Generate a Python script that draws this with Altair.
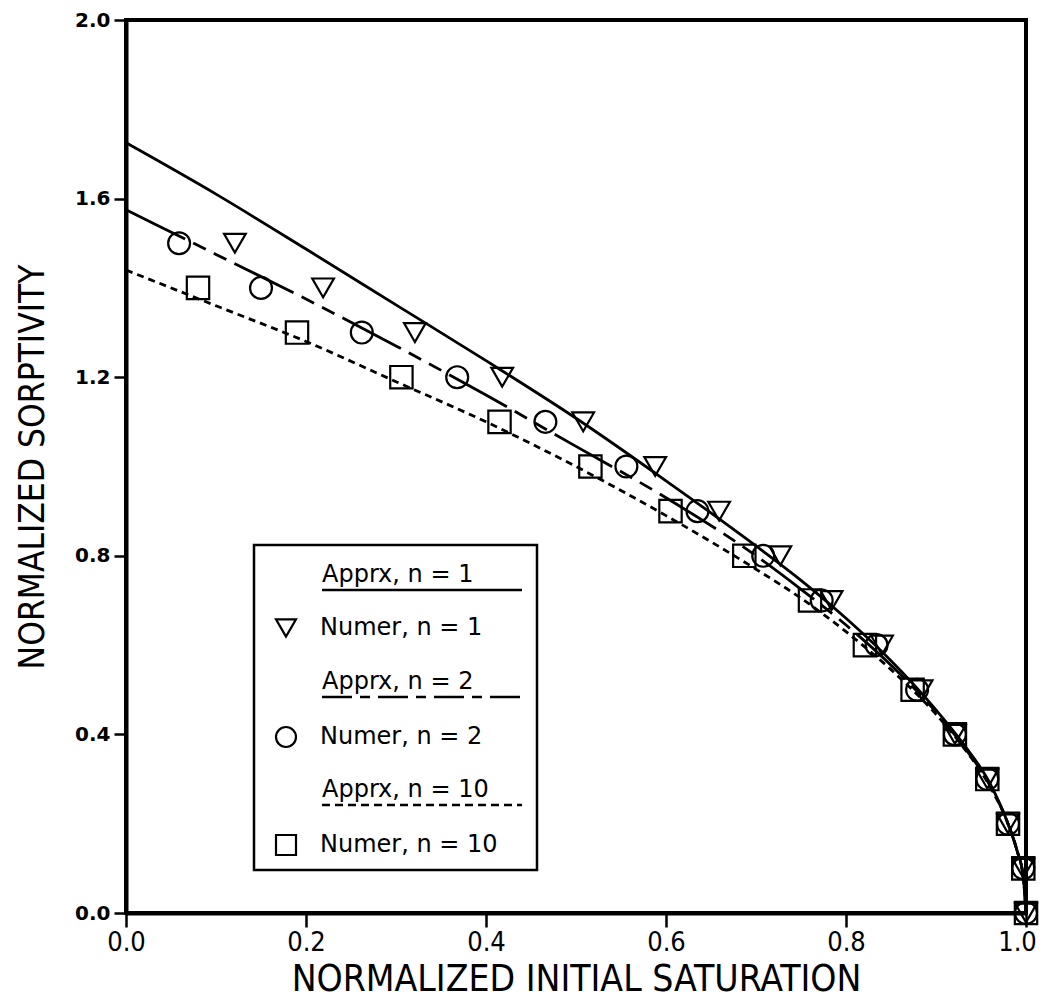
import altair as alt
import pandas as pd

# ---- data ----
sat_levels = [1.5, 1.4, 1.3, 1.2, 1.1, 1.0, 0.9, 0.8, 0.7, 0.6, 0.5, 0.4, 0.3, 0.2, 0.1, 0.0]

numer1_x = [0.121, 0.219, 0.321, 0.418, 0.508, 0.588, 0.659, 0.727, 0.784, 0.840, 0.884, 0.921, 0.957, 0.980, 0.997, 1.0]
numer1_y = sat_levels

numer2_x = [0.059, 0.150, 0.262, 0.368, 0.466, 0.556, 0.635, 0.708, 0.773, 0.834, 0.879, 0.921, 0.957, 0.980, 0.997, 1.0]
numer2_y = sat_levels

numer10_x = [0.080, 0.190, 0.306, 0.415, 0.516, 0.605, 0.687, 0.760, 0.821, 0.874, 0.921, 0.957, 0.980, 0.997, 1.0]
numer10_y = sat_levels[1:]

apprx_x = [0.0, 0.1, 0.2, 0.3, 0.4, 0.5, 0.6, 0.7, 0.75, 0.8, 0.85, 0.9, 0.93, 0.96, 0.98, 0.99, 0.997, 1.0]
apprx1_y = [1.725, 1.61, 1.487, 1.362, 1.237, 1.108, 0.968, 0.822, 0.745, 0.66, 0.565, 0.455, 0.38, 0.29, 0.2, 0.14, 0.08, 0.0]
apprx2_y = [1.575, 1.475, 1.375, 1.27, 1.16, 1.045, 0.93, 0.80, 0.725, 0.645, 0.555, 0.45, 0.375, 0.285, 0.2, 0.14, 0.08, 0.0]
apprx10_y = [1.44, 1.36, 1.28, 1.19, 1.10, 1.0, 0.89, 0.77, 0.705, 0.63, 0.545, 0.445, 0.372, 0.283, 0.2, 0.14, 0.08, 0.0]

x_ticks = [0.0, 0.2, 0.4, 0.6, 0.8, 1.0]
y_ticks = [0.0, 0.4, 0.8, 1.2, 1.6, 2.0]

legend_labels = ["Apprx, n = 1", "Numer, n = 1", "Apprx, n = 2",
                 "Numer, n = 2", "Apprx, n = 10", "Numer, n = 10"]

# ---- styles ----
DASH2 = [66, 9, 14, 9, 14, 9]
DASH10 = [7, 5]
W, H = 900, 893
TOP = 12

xs = alt.Scale(domain=[0, 1], nice=False)
ys = alt.Scale(domain=[0, 2], nice=False)

x_axis = alt.Axis(values=x_ticks, format=".1f", title="NORMALIZED INITIAL SATURATION",
                  grid=False, tickSize=14, tickWidth=2.5, domainWidth=4, domainColor="black",
                  tickColor="black", labelFont="DejaVu Sans Condensed", labelFontSize=27,
                  labelColor="black", labelPadding=2, labelFlush=False,
                  labelOffset={"condition": {"test": "datum.value >= 0.99", "value": -9}, "value": 0},
                  titleFont="DejaVu Sans Condensed", titleFontSize=37, titleFontWeight="normal",
                  titleColor="black", titleY=77, titleBaseline="alphabetic")
y_axis = alt.Axis(values=y_ticks, format=".1f", title="NORMALIZED SORPTIVITY",
                  grid=False, tickSize=12, tickWidth=2.5, domainWidth=4, domainColor="black",
                  tickColor="black", labelFont="DejaVu Sans", labelFontSize=20,
                  labelFontWeight="bold", labelColor="black", labelPadding=4, labelFlush=False,
                  titleFont="DejaVu Sans Condensed", titleFontSize=35, titleFontWeight="normal",
                  titleColor="black", titleX=-94, titleBaseline="middle", titleAlign="center")


def enc():
    return dict(x=alt.X("x:Q", scale=xs, axis=x_axis), y=alt.Y("y:Q", scale=ys, axis=y_axis))


def line_layer(yvals, dash):
    df = pd.DataFrame({"x": apprx_x, "y": yvals})
    kw = dict(color="black", strokeWidth=2.8, interpolate="monotone")
    if dash:
        kw["strokeDash"] = dash
    return alt.Chart(df).mark_line(**kw).encode(**enc())


def point_layer(xv, yv, shape, size):
    df = pd.DataFrame({"x": xv, "y": yv})
    return alt.Chart(df).mark_point(shape=shape, size=size, filled=False, color="black",
                                    strokeWidth=2.2, opacity=1).encode(**enc())


layers = [
    line_layer(apprx1_y, None),
    line_layer(apprx2_y, DASH2),
    line_layer(apprx10_y, DASH10),
    point_layer(numer1_x, numer1_y, "triangle-down", 470),
    point_layer(numer2_x, numer2_y, "circle", 480),
    point_layer(numer10_x, numer10_y, "square", 500),
]

# ---- hand-made legend (pixel positions inside the plot area) ----
off = 16 - (8 + TOP)  # keep the legend at the same place on the page
one = pd.DataFrame({"k": [0]})
layers.append(alt.Chart(one).mark_rect(fill="white", stroke="black", strokeWidth=2.5).encode(
    x=alt.value(128), x2=alt.value(411), y=alt.value(529 + off), y2=alt.value(854 + off)))

row_y = [559, 612, 666, 721, 774, 829]
legend_dash = [None, [30, 8, 10, 8], [8, 5]]
shapes = ["triangle-down", "circle", "square"]
for i, lab in enumerate(legend_labels):
    yy = row_y[i] + off
    if i % 2 == 0:
        layers.append(alt.Chart(one).mark_text(align="left", baseline="middle", font="DejaVu Sans",
                                               fontSize=24, color="black").encode(
            x=alt.value(196), y=alt.value(yy), text=alt.value(lab)))
        kw = dict(color="black", strokeWidth=2.5)
        d = legend_dash[i // 2]
        if d:
            kw["strokeDash"] = d
        layers.append(alt.Chart(one).mark_rule(**kw).encode(
            x=alt.value(196), x2=alt.value(396), y=alt.value(yy + 15)))
    else:
        layers.append(alt.Chart(one).mark_point(shape=shapes[i // 2], size=400, filled=False,
                                                color="black", strokeWidth=2.2, opacity=1).encode(
            x=alt.value(160), y=alt.value(yy)))
        layers.append(alt.Chart(one).mark_text(align="left", baseline="middle", font="DejaVu Sans",
                                               fontSize=24, color="black").encode(
            x=alt.value(194), y=alt.value(yy), text=alt.value(lab)))

chart = alt.layer(*layers).properties(
    width=W, height=H,
    background="white",
    autosize=alt.AutoSizeParams(type="none"),
    padding={"left": 118, "top": TOP, "right": 15, "bottom": 87},
).configure_view(stroke="black", strokeWidth=4)

chart.save("out.html", embed_options={"renderer": "svg", "actions": False})
